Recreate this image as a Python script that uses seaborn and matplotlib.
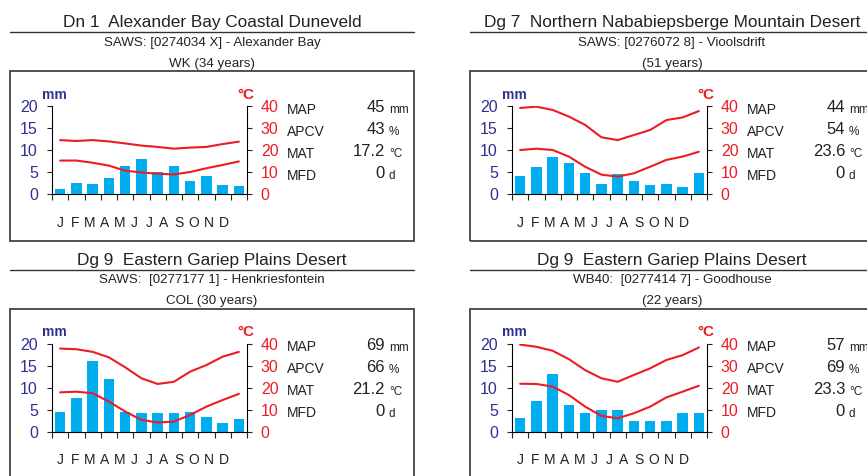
import matplotlib.pyplot as plt
import seaborn as sns
import numpy as np
from matplotlib import font_manager
from matplotlib.lines import Line2D
from matplotlib.patches import Rectangle
from matplotlib.transforms import blended_transform_factory

# ---- data ----
months = ["J", "F", "M", "A", "M", "J", "J", "A", "S", "O", "N", "D"]

titles = ["Dn 1  Alexander Bay Coastal Duneveld",
          "Dg 7  Northern Nababiepsberge Mountain Desert",
          "Dg 9  Eastern Gariep Plains Desert",
          "Dg 9  Eastern Gariep Plains Desert"]
stations = ["SAWS: [0274034 X] - Alexander Bay",
            "SAWS: [0276072 8] - Vioolsdrift",
            "SAWS:  [0277177 1] - Henkriesfontein",
            "WB40:  [0277414 7] - Goodhouse"]
periods = ["WK (34 years)", "(51 years)", "COL (30 years)", "(22 years)"]

rain_dn1 = [1.1, 2.5, 2.3, 3.6, 6.4, 8.0, 5.0, 6.4, 3.0, 4.1, 2.0, 1.8]
tmax_dn1 = [24.5, 24.1, 24.5, 23.9, 23.0, 22.0, 21.4, 20.6, 21.1, 21.4, 22.7, 23.8]
tmin_dn1 = [15.2, 15.2, 14.2, 12.9, 10.6, 9.8, 9.2, 8.9, 10.0, 11.7, 13.2, 14.8]

rain_dg7 = [4.1, 6.1, 8.4, 7.0, 4.8, 2.3, 4.5, 3.0, 2.0, 2.3, 1.6, 4.8]
tmax_dg7 = [39.1, 39.7, 38.2, 35.2, 31.4, 25.8, 24.5, 26.8, 29.1, 33.6, 34.8, 37.7]
tmin_dg7 = [20.0, 20.6, 20.0, 17.0, 12.4, 8.8, 7.9, 9.4, 12.4, 15.5, 17.0, 19.2]

rain_dg9a = [4.5, 7.7, 16.1, 12.0, 4.5, 4.1, 4.3, 4.3, 4.5, 3.4, 2.0, 2.9]
tmax_dg9a = [37.7, 37.4, 36.2, 33.7, 29.2, 24.2, 21.6, 22.6, 27.2, 30.2, 34.0, 36.2]
tmin_dg9a = [17.8, 18.1, 17.4, 13.6, 9.1, 5.3, 4.1, 4.5, 7.5, 11.3, 14.3, 17.1]

rain_dg9b = [3.1, 7.0, 13.1, 6.1, 4.3, 5.0, 5.0, 2.3, 2.3, 2.3, 4.3, 4.3]
tmax_dg9b = [39.5, 38.5, 36.7, 32.9, 27.9, 24.2, 22.6, 25.7, 28.7, 32.5, 34.7, 38.2]
tmin_dg9b = [21.7, 21.6, 20.4, 16.6, 11.3, 7.1, 6.0, 8.3, 11.3, 15.5, 18.1, 20.8]

rains = [rain_dn1, rain_dg7, rain_dg9a, rain_dg9b]
tmaxs = [tmax_dn1, tmax_dg7, tmax_dg9a, tmax_dg9b]
tmins = [tmin_dn1, tmin_dg7, tmin_dg9a, tmin_dg9b]

map_vals = ["45", "44", "69", "57"]
apcv_vals = ["43", "54", "66", "69"]
mat_vals = ["17.2", "23.6", "21.2", "23.3"]
mfd_vals = ["0", "0", "0", "0"]

# ---- style ----
BLUE_TXT = "#2E3192"
RED = "#ED1C24"
BAR = "#00AEEF"
DARK = "#333333"

sns.set_style("white")
plt.rcParams["font.family"] = ["Liberation Sans", "DejaVu Sans"]
names = {f.name for f in font_manager.fontManager.ttflist}
NARROW = "Liberation Sans Narrow" if "Liberation Sans Narrow" in names else "Liberation Sans"

W, H = 867, 476
fig = plt.figure(figsize=(W / 100, H / 100), dpi=100)


def fx(x):
    return x / W


def fy(y):
    return 1 - y / H


def draw_panel(i, dx, dy):
    cx = 212 + dx
    fig.text(fx(cx), fy(27.5 + dy), titles[i], ha="center", va="baseline",
             fontsize=12.4, color="#222222")
    fig.add_artist(Line2D([fx(10 + dx), fx(414 + dx)], [fy(32.3 + dy)] * 2,
                          color=DARK, lw=1.0))
    fig.text(fx(cx), fy(45.7 + dy), stations[i], ha="center", va="baseline",
             fontsize=9.6, color="#222222")
    fig.text(fx(cx), fy(66.7 + dy), periods[i], ha="center", va="baseline",
             fontsize=9.6, color="#222222")
    fig.add_artist(Rectangle((fx(10 + dx), fy(241 + dy)), 404 / W, 170 / H,
                             fill=False, ec=DARK, lw=1.2))

    ax = fig.add_axes([fx(52 + dx), fy(194 + dy), 195 / W, 88 / H])
    sns.barplot(x=list(range(12)), y=rains[i], color=BAR, saturation=1,
                width=0.66, linewidth=0, ax=ax)
    ax2 = ax.twinx()
    sns.lineplot(x=list(range(12)), y=tmaxs[i], color=RED, lw=1.5, ax=ax2,
                 solid_joinstyle="round", solid_capstyle="round")
    sns.lineplot(x=list(range(12)), y=tmins[i], color=RED, lw=1.5, ax=ax2,
                 solid_joinstyle="round", solid_capstyle="round")

    for a in (ax, ax2):
        a.set_xlim(-0.5, 11.5)
        a.set_xlabel("")
        a.set_ylabel("")
        a.grid(False)
        for s in a.spines.values():
            s.set_visible(False)
            s.set_color("black")
            s.set_linewidth(0.8)
    ax.patch.set_visible(False)
    ax.spines["left"].set_visible(True)
    ax.spines["bottom"].set_visible(True)
    ax2.spines["right"].set_visible(True)

    ax.set_ylim(0, 20)
    ax.set_yticks([0, 5, 10, 15, 20])
    ax.set_xticks(np.arange(-0.5, 12, 1))
    ax.set_xticklabels([])
    ax.tick_params(axis="x", length=4.3, width=0.8, direction="out", bottom=True)
    ax.tick_params(axis="y", length=3.6, width=0.8, direction="out", left=True,
                   labelsize=11.5, labelcolor=BLUE_TXT, pad=6.5)
    ax2.set_ylim(0, 40)
    ax2.set_yticks([0, 10, 20, 30, 40])
    ax2.tick_params(axis="y", length=3.6, width=0.8, direction="out", right=True,
                    labelsize=11.5, labelcolor=RED, pad=6.3)

    tr_m = blended_transform_factory(ax.transData, ax.transAxes)
    for j, m in enumerate(months):
        ax.text(j * 0.914, -0.372, m, transform=tr_m, ha="center",
                va="baseline", fontsize=10, family=NARROW, color="#222222")

    ax.text(0.01, 1.08, "mm", transform=ax.transAxes, ha="center",
            va="baseline", fontsize=10, fontweight="bold", color=BLUE_TXT)
    ax2.text(0.993, 1.08, "°C", transform=ax2.transAxes, ha="center",
             va="baseline", fontsize=11, fontweight="bold", color=RED)

    tr = blended_transform_factory(ax2.transAxes, ax2.transData)
    rows = [(40, "MAP", map_vals[i], "mm"), (30, "APCV", apcv_vals[i], "%"),
            (20, "MAT", mat_vals[i], "°C"), (10, "MFD", mfd_vals[i], "d")]
    for yv, lab, val, unit in rows:
        ax2.text(1.205, yv - 3.6, lab, transform=tr, ha="left", va="baseline",
                 fontsize=10, family=NARROW, color="#222222", clip_on=False)
        ax2.text(1.708, yv - 2.9, val, transform=tr, ha="right", va="baseline",
                 fontsize=12, color="#222222", clip_on=False)
        ax2.text(1.728, yv - 3.4, unit, transform=tr, ha="left", va="baseline",
                 fontsize=8.5, color="#222222", clip_on=False)


offsets = [(0, 0), (460, 0), (0, 237.5), (460, 237.5)]
for k, (ox, oy) in enumerate(offsets):
    draw_panel(k, ox, oy)

fig.savefig("out.png", dpi=100)
